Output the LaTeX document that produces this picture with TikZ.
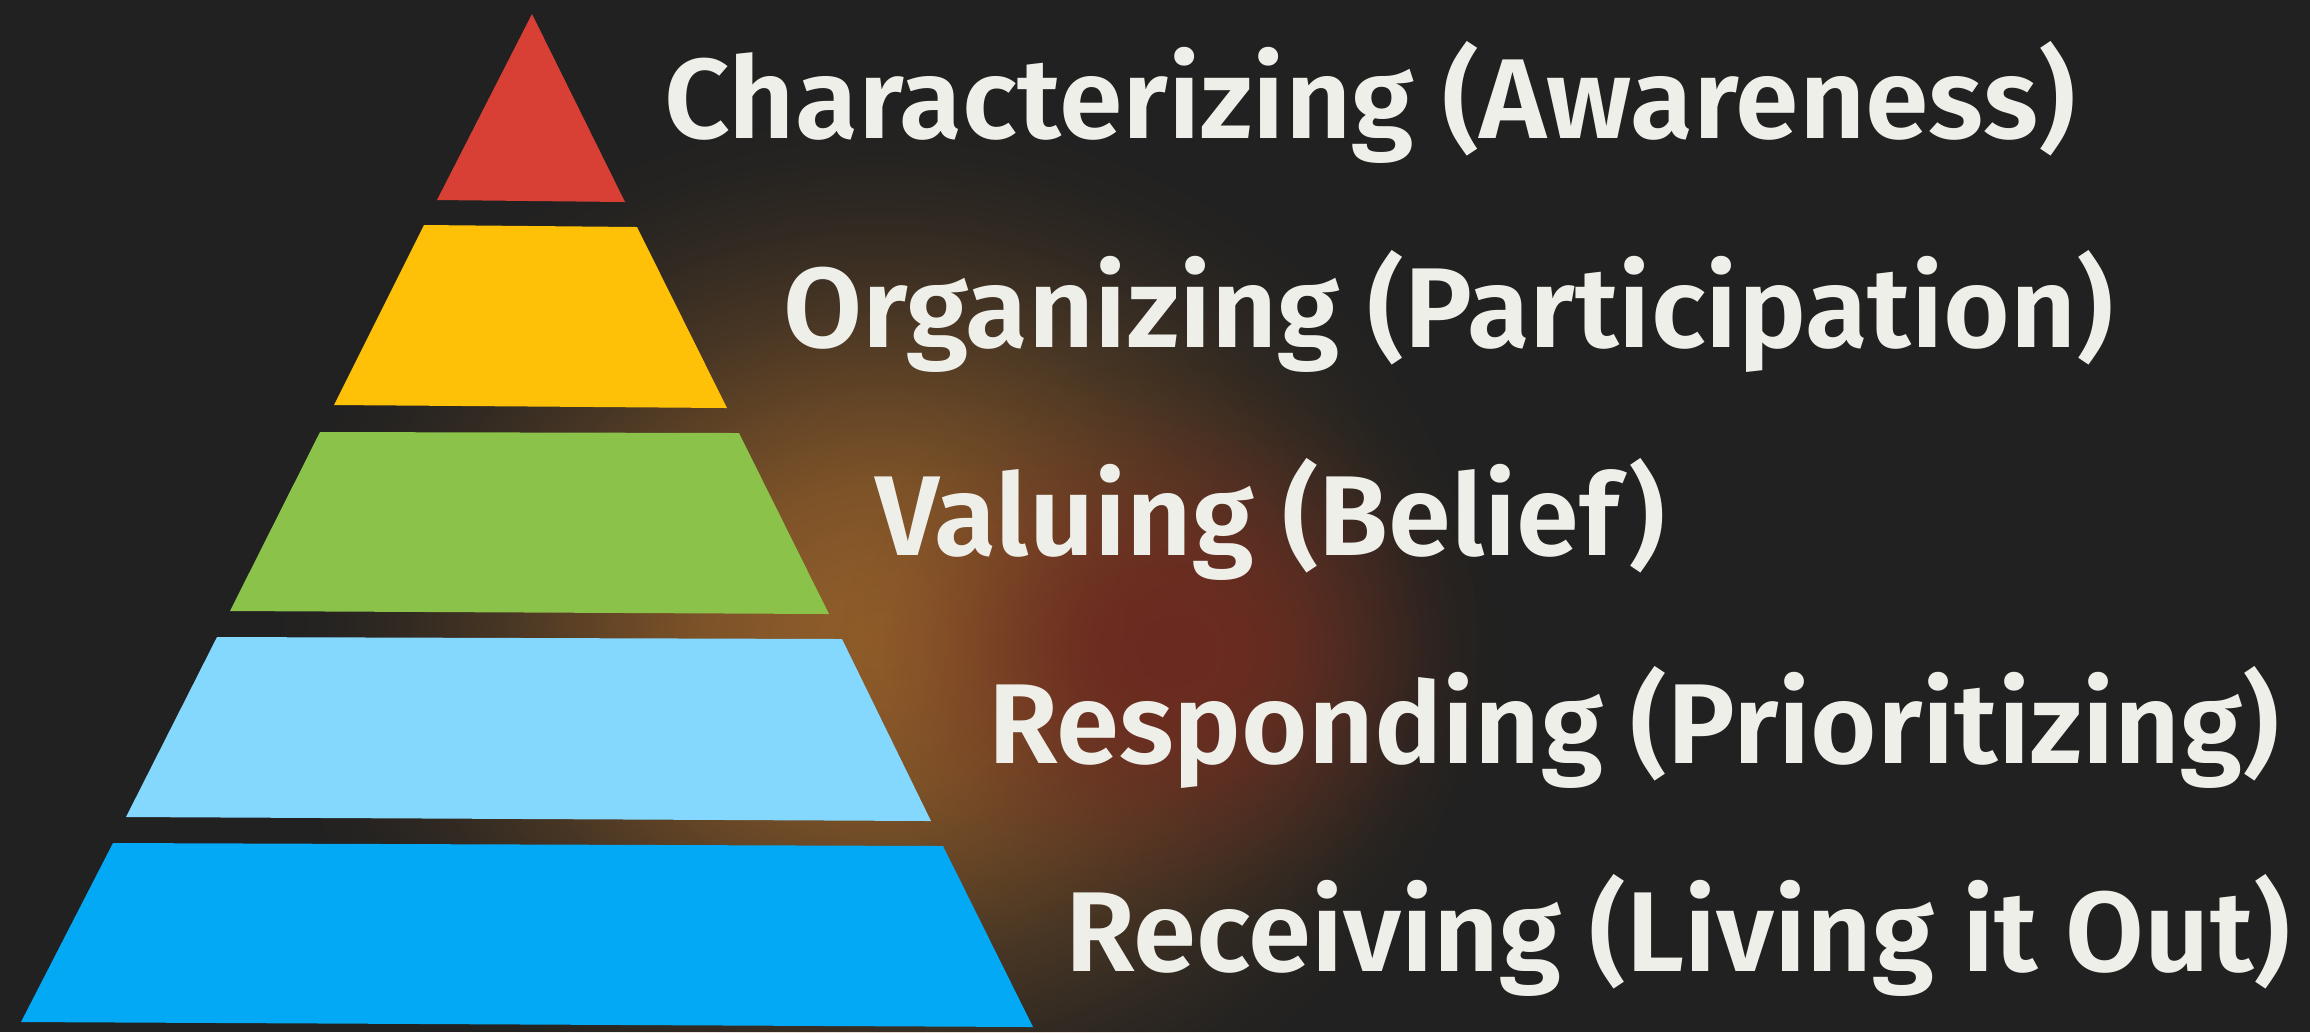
\documentclass[tikz,border=0pt]{standalone}
\usepackage{fontspec}
\newfontfamily\lblfont{Fira Sans SemiBold}
\usetikzlibrary{fadings}
\definecolor{bgc}{HTML}{212121}
\definecolor{redc}{HTML}{D83F35}
\definecolor{yelc}{HTML}{FFC107}
\definecolor{grnc}{HTML}{8BC34A}
\definecolor{lbluc}{HTML}{84D8FE}
\definecolor{bluc}{HTML}{03A9F4}
\definecolor{txtc}{HTML}{EFEFEA}
\definecolor{glowor}{HTML}{905D2A}
\definecolor{glowrd}{HTML}{6C2A20}
\pgfdeclareradialshading{glowsh}{\pgfpointorigin}{color(0bp)=(white); color(3bp)=(white!96!black); color(7bp)=(white!84!black); color(11bp)=(white!61!black); color(15bp)=(white!36!black); color(19bp)=(white!16!black); color(22bp)=(white!5!black); color(25bp)=(black); color(50bp)=(black)}
\pgfdeclarefading{glowfade}{\pgfuseshading{glowsh}}
\tikzset{
  layer/.style={draw=none},
  lbl/.style={anchor=base west, inner sep=0pt, outer sep=0pt, text=txtc, font=\lblfont\fontsize{32.3}{36}\selectfont},
}
\begin{document}
\begin{tikzpicture}[x=0.01cm,y=-0.01cm]
\useasboundingbox (0,0) rectangle (2310,1032);
\fill[bgc] (0,0) rectangle (2310,1032);
% glow
\fill[glowor, path fading=glowfade] (880,640) ellipse (620 and 540);
\fill[glowrd, path fading=glowfade] (1170,650) ellipse (330 and 290);
% pyramid
\fill[redc, layer] (532,14) -- (625,202) -- (437,200) -- cycle;
\fill[yelc, layer] (424,225) -- (637,227) -- (727,408) -- (334,405) -- cycle;
\fill[grnc, layer] (320,432) -- (739,433) -- (829,614) -- (230,611) -- cycle;
\fill[lbluc, layer] (217,637) -- (842,639) -- (931,821) -- (126,817) -- cycle;
\fill[bluc, layer] (113,843) -- (943,846) -- (1033,1027) -- (21,1022) -- cycle;
% labels
\node[lbl] (l1) at (664,138) {\scalebox{1.012}[1]{Characterizing (Awareness)}};
\node[lbl] (l2) at (783,347) {\scalebox{1.008}[1]{Organizing (Participation)}};
\node[lbl] (l3) at (875,555) {Valuing (Belief)};
\node[lbl] (l4) at (988,763) {\scalebox{1.004}[1]{Responding (Prioritizing)}};
\node[lbl] (l5) at (1065,971) {\scalebox{1.004}[1]{Receiving (Living it Out)}};
\end{tikzpicture}
\end{document}
